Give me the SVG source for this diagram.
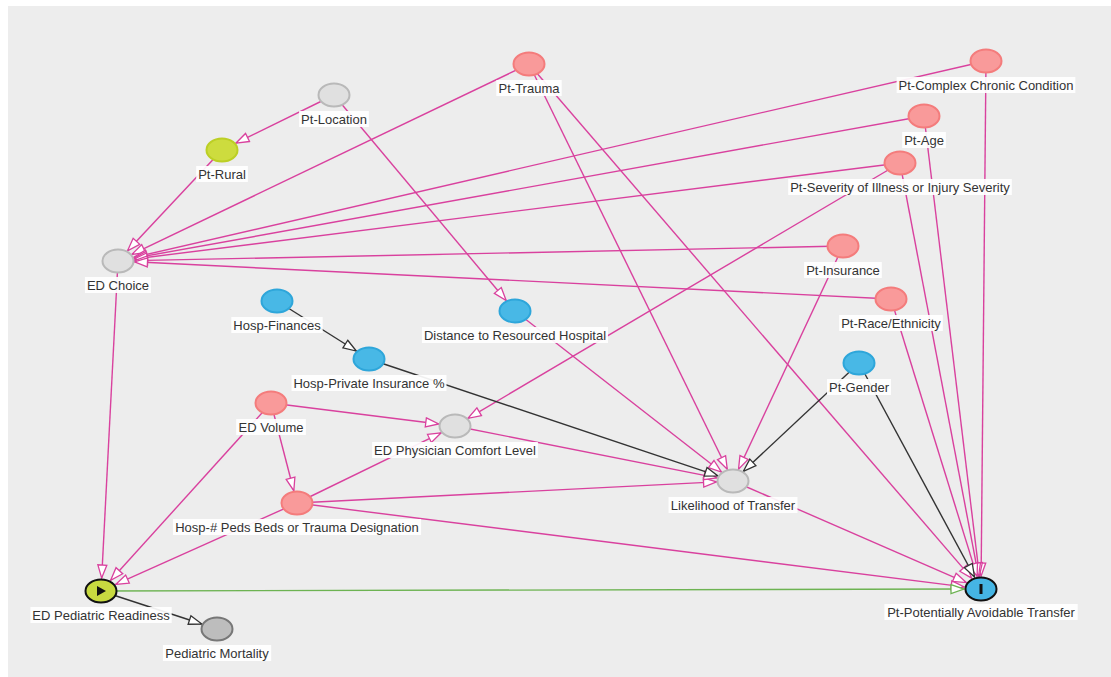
<svg xmlns="http://www.w3.org/2000/svg" width="1111" height="677" viewBox="0 0 1111 677">
<defs>
<style>
.e{fill:none;stroke-width:1.4}
.p{stroke:#d9419e;marker-end:url(#ap)}
.k{stroke:#333;marker-end:url(#ak)}
.g{stroke:#6db352;marker-end:url(#ag)}
.n{stroke-width:2}
.pink{fill:#f99a9a;stroke:#f47c7c}
.blue{fill:#48b8e6;stroke:#2ea6da}
.gray{fill:#e0e0e0;stroke:#b9b9b9}
.yg{fill:#cddc3e;stroke:#bccf25}
.dk{fill:#bdbdbd;stroke:#777}
.exp{fill:#c8da40;stroke:#111}
.out{fill:#45b5e4;stroke:#111}
.lb{fill:#fff;opacity:0.92}
text{font-family:"Liberation Sans",Arial,sans-serif;font-size:13px;fill:#333;text-anchor:middle}
</style>
<marker id="ap" markerUnits="userSpaceOnUse" markerWidth="16" markerHeight="12" refX="13" refY="4.5" orient="auto" overflow="visible"><path d="M0,0 L13,4.5 L0,9 z" fill="#fff" stroke="#d9419e" stroke-width="1.3"/></marker>
<marker id="ak" markerUnits="userSpaceOnUse" markerWidth="16" markerHeight="12" refX="13" refY="4.5" orient="auto" overflow="visible"><path d="M0,0 L13,4.5 L0,9 z" fill="#fff" stroke="#333" stroke-width="1.3"/></marker>
<marker id="ag" markerUnits="userSpaceOnUse" markerWidth="16" markerHeight="12" refX="13" refY="4.5" orient="auto" overflow="visible"><path d="M0,0 L13,4.5 L0,9 z" fill="#fff" stroke="#6db352" stroke-width="1.3"/></marker>
</defs>
<rect x="8" y="6" width="1103" height="671" fill="#ededed"/>
<g id="connectors">
<line class="e p" x1="334" y1="95" x2="235.85" y2="143.2"/>
<line class="e p" x1="334" y1="95" x2="506.16" y2="300.45"/>
<line class="e p" x1="222" y1="150" x2="127.55" y2="250.81"/>
<line class="e p" x1="529" y1="64" x2="131.94" y2="254.32"/>
<line class="e p" x1="529" y1="64" x2="727.26" y2="469.28"/>
<line class="e p" x1="529" y1="64" x2="971.67" y2="578.16"/>
<line class="e p" x1="986" y1="61" x2="133.79" y2="257.36"/>
<line class="e p" x1="986" y1="61" x2="981.12" y2="576"/>
<line class="e p" x1="924" y1="116" x2="134.05" y2="258.11"/>
<line class="e p" x1="924" y1="116" x2="979.44" y2="576.04"/>
<line class="e p" x1="900" y1="163" x2="134.27" y2="258.96"/>
<line class="e p" x1="900" y1="163" x2="468.01" y2="418.31"/>
<line class="e p" x1="900" y1="163" x2="978.55" y2="576.13"/>
<line class="e p" x1="843" y1="246" x2="134.5" y2="260.66"/>
<line class="e p" x1="843" y1="246" x2="738.52" y2="469.22"/>
<line class="e p" x1="891" y1="299" x2="134.46" y2="261.81"/>
<line class="e p" x1="891" y1="299" x2="977.07" y2="576.34"/>
<line class="e p" x1="515" y1="311" x2="721.5" y2="472.03"/>
<line class="e p" x1="271" y1="403" x2="438.72" y2="423.96"/>
<line class="e p" x1="271" y1="403" x2="293.81" y2="490.73"/>
<line class="e p" x1="271" y1="403" x2="110.66" y2="580.32"/>
<line class="e p" x1="297" y1="503" x2="441.12" y2="432.76"/>
<line class="e p" x1="297" y1="503" x2="716.54" y2="481.83"/>
<line class="e p" x1="297" y1="503" x2="964.23" y2="586.89"/>
<line class="e p" x1="297" y1="503" x2="115.65" y2="584.42"/>
<line class="e p" x1="455" y1="426" x2="717.01" y2="477.84"/>
<line class="e p" x1="733" y1="481" x2="966.24" y2="582.57"/>
<line class="e p" x1="118" y1="261" x2="101.67" y2="578.02"/>
<line class="e k" x1="277" y1="301" x2="356.32" y2="351.01"/>
<line class="e k" x1="369" y1="359" x2="717.9" y2="475.94"/>
<line class="e k" x1="859" y1="363" x2="743.38" y2="471.28"/>
<line class="e k" x1="859" y1="363" x2="974.51" y2="576.99"/>
<line class="e k" x1="101" y1="591" x2="201.87" y2="624.04"/>
<line class="e g" x1="101" y1="591" x2="964" y2="589.04"/>
</g>
<g id="n-pt-trauma"><ellipse class="n pink" cx="529" cy="64" rx="15.5" ry="11.5"/><rect class="lb" x="496.3" y="80" width="65.4" height="16"/><text x="529" y="92.6">Pt-Trauma</text></g>
<g id="n-pt-complex"><ellipse class="n pink" cx="986" cy="61" rx="15.5" ry="11.5"/><rect class="lb" x="896.6" y="77" width="178.8" height="16"/><text x="986" y="89.6">Pt-Complex Chronic Condition</text></g>
<g id="n-pt-location"><ellipse class="n gray" cx="334" cy="95" rx="15.5" ry="11.5"/><rect class="lb" x="299.1" y="111" width="69.8" height="16"/><text x="334" y="123.6">Pt-Location</text></g>
<g id="n-pt-age"><ellipse class="n pink" cx="924" cy="116" rx="15.5" ry="11.5"/><rect class="lb" x="902.2" y="132" width="43.7" height="16"/><text x="924" y="144.6">Pt-Age</text></g>
<g id="n-pt-rural"><ellipse class="n yg" cx="222" cy="150" rx="15.5" ry="11.5"/><rect class="lb" x="196.2" y="166" width="51.7" height="16"/><text x="222" y="178.6">Pt-Rural</text></g>
<g id="n-pt-severity"><ellipse class="n pink" cx="900" cy="163" rx="15.5" ry="11.5"/><rect class="lb" x="788.2" y="179" width="223.6" height="16"/><text x="900" y="191.6">Pt-Severity of Illness or Injury Severity</text></g>
<g id="n-ed-choice"><ellipse class="n gray" cx="118" cy="261" rx="15.5" ry="11.5"/><rect class="lb" x="84.9" y="277" width="66.1" height="16"/><text x="118" y="289.6">ED Choice</text></g>
<g id="n-pt-insurance"><ellipse class="n pink" cx="843" cy="246" rx="15.5" ry="11.5"/><rect class="lb" x="804.1" y="262" width="77.7" height="16"/><text x="843" y="274.6">Pt-Insurance</text></g>
<g id="n-hosp-finances"><ellipse class="n blue" cx="277" cy="301" rx="15.5" ry="11.5"/><rect class="lb" x="231.3" y="317" width="91.4" height="16"/><text x="277" y="329.6">Hosp-Finances</text></g>
<g id="n-distance"><ellipse class="n blue" cx="515" cy="311" rx="15.5" ry="11.5"/><rect class="lb" x="421.9" y="327" width="186.1" height="16"/><text x="515" y="339.6">Distance to Resourced Hospital</text></g>
<g id="n-pt-race"><ellipse class="n pink" cx="891" cy="299" rx="15.5" ry="11.5"/><rect class="lb" x="839.1" y="315" width="103.7" height="16"/><text x="891" y="327.6">Pt-Race/Ethnicity</text></g>
<g id="n-hosp-private"><ellipse class="n blue" cx="369" cy="359" rx="15.5" ry="11.5"/><rect class="lb" x="291.5" y="375" width="155" height="16"/><text x="369" y="387.6">Hosp-Private Insurance %</text></g>
<g id="n-pt-gender"><ellipse class="n blue" cx="859" cy="363" rx="15.5" ry="11.5"/><rect class="lb" x="827" y="379" width="64" height="16"/><text x="859" y="391.6">Pt-Gender</text></g>
<g id="n-ed-volume"><ellipse class="n pink" cx="271" cy="403" rx="15.5" ry="11.5"/><rect class="lb" x="236.2" y="419" width="69.7" height="16"/><text x="271" y="431.6">ED Volume</text></g>
<g id="n-ed-comfort"><ellipse class="n gray" cx="455" cy="426" rx="15.5" ry="11.5"/><rect class="lb" x="372.1" y="442" width="165.8" height="16"/><text x="455" y="454.6">ED Physician Comfort Level</text></g>
<g id="n-likelihood"><ellipse class="n gray" cx="733" cy="481" rx="15.5" ry="11.5"/><rect class="lb" x="668.5" y="497" width="129" height="16"/><text x="733" y="509.6">Likelihood of Transfer</text></g>
<g id="n-peds-beds"><ellipse class="n pink" cx="297" cy="503" rx="15.5" ry="11.5"/><rect class="lb" x="172.9" y="519" width="248.2" height="16"/><text x="297" y="531.6">Hosp-# Peds Beds or Trauma Designation</text></g>
<g id="n-ed-readiness"><ellipse class="n exp" cx="101" cy="591" rx="15.5" ry="11.5"/><path d="M97,586 L106,591 L97,596 z" fill="#111"/><rect class="lb" x="30.4" y="607" width="141.3" height="16"/><text x="101" y="619.6">ED Pediatric Readiness</text></g>
<g id="n-ped-mortality"><ellipse class="n dk" cx="217" cy="629" rx="15.5" ry="11.5"/><rect class="lb" x="162.9" y="645" width="108.3" height="16"/><text x="217" y="657.6">Pediatric Mortality</text></g>
<g id="n-pat"><ellipse class="n out" cx="981" cy="589" rx="15.5" ry="11.5"/><rect x="979.5" y="584" width="3" height="10" fill="#111"/><rect class="lb" x="884.4" y="604" width="193.3" height="16"/><text x="981" y="616.6">Pt-Potentially Avoidable Transfer</text></g>
</svg>
